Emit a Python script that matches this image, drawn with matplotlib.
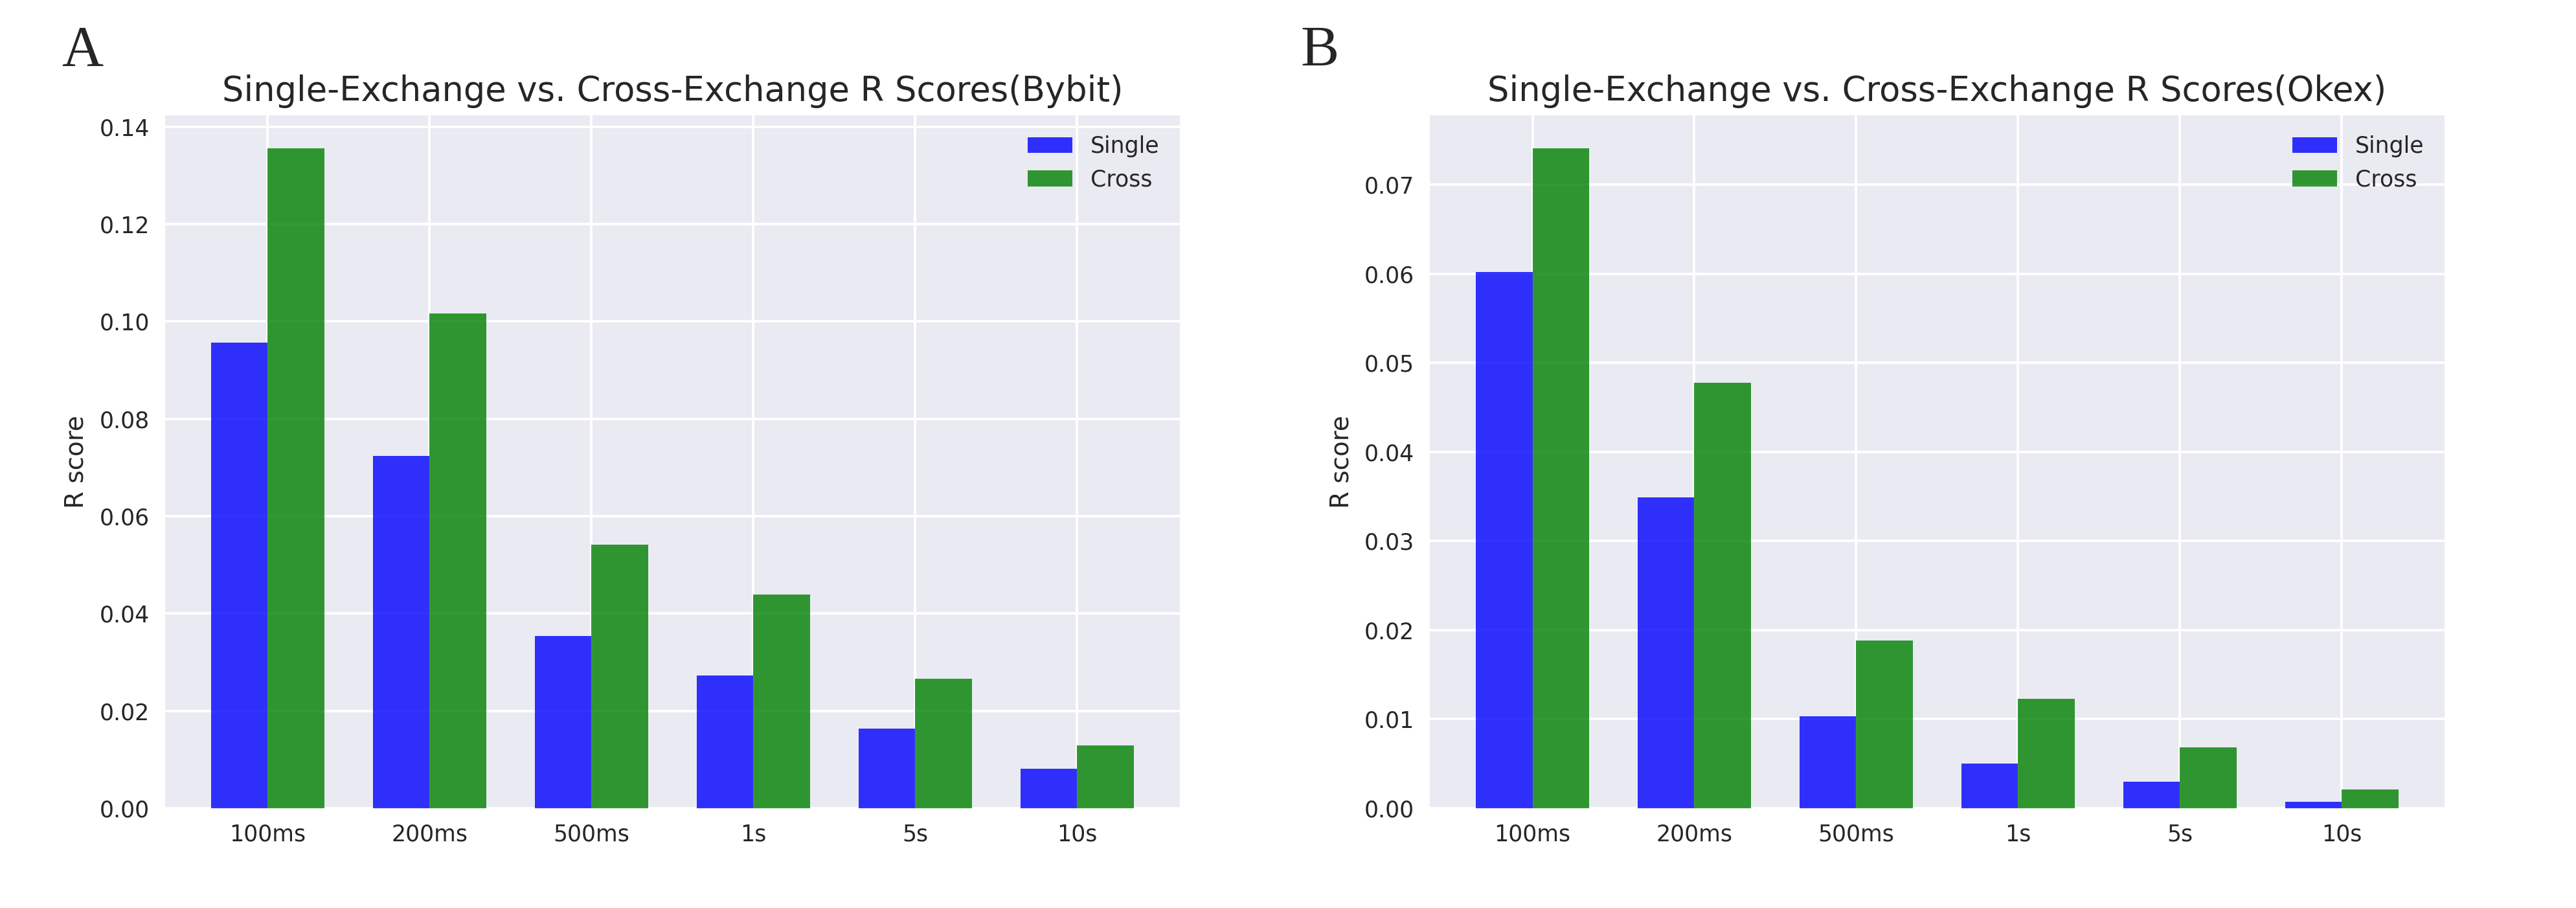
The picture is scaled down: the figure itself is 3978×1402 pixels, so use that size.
import numpy as np
import matplotlib
matplotlib.use("Agg")
import matplotlib.pyplot as plt

plt.style.use("seaborn-v0_8-darkgrid")
plt.rcParams['font.family'] = ['DejaVu Sans']
plt.rcParams['grid.linewidth'] = 1.4

windows = ["100ms", "200ms", "500ms", "1s", "5s", "10s"]

# Bybit
bybit_single = [0.0957, 0.0724, 0.0354, 0.0273, 0.0163, 0.0081]
bybit_cross = [0.1356, 0.1017, 0.0542, 0.0439, 0.0266, 0.0129]

# Okex
okex_single = [0.0602, 0.0349, 0.0103, 0.0050, 0.0030, 0.0007]
okex_cross = [0.0741, 0.0478, 0.0188, 0.0123, 0.0068, 0.0021]

fig = plt.figure(figsize=(19.89, 7.01), dpi=200)
ax1 = fig.add_axes([0.064, 0.110, 0.394, 0.763])
ax2 = fig.add_axes([0.555, 0.110, 0.394, 0.763])

x = np.arange(len(windows))
w = 0.35

for ax, single, cross, name in [(ax1, bybit_single, bybit_cross, "Bybit"),
                                (ax2, okex_single, okex_cross, "Okex")]:
    ax.bar(x - w / 2, single, w, color="blue", alpha=0.8, label="Single")
    ax.bar(x + w / 2, cross, w, color="green", alpha=0.8, label="Cross")
    ax.set_xticks(x)
    ax.set_xticklabels(windows)
    ax.tick_params(labelsize=12.5, pad=8.5)
    ax.set_ylabel("R score", fontsize=14, labelpad=6)
    ax.set_title("Single-Exchange vs. Cross-Exchange R Scores(" + name + ")", fontsize=19, pad=8)
    ax.legend(loc="upper right", fontsize=12.5, frameon=False)

fig.text(0.024, 0.928, "A", fontsize=32, family="Liberation Serif")
fig.text(0.505, 0.928, "B", fontsize=32, family="Liberation Serif")

fig.savefig("out.png", dpi=200)
